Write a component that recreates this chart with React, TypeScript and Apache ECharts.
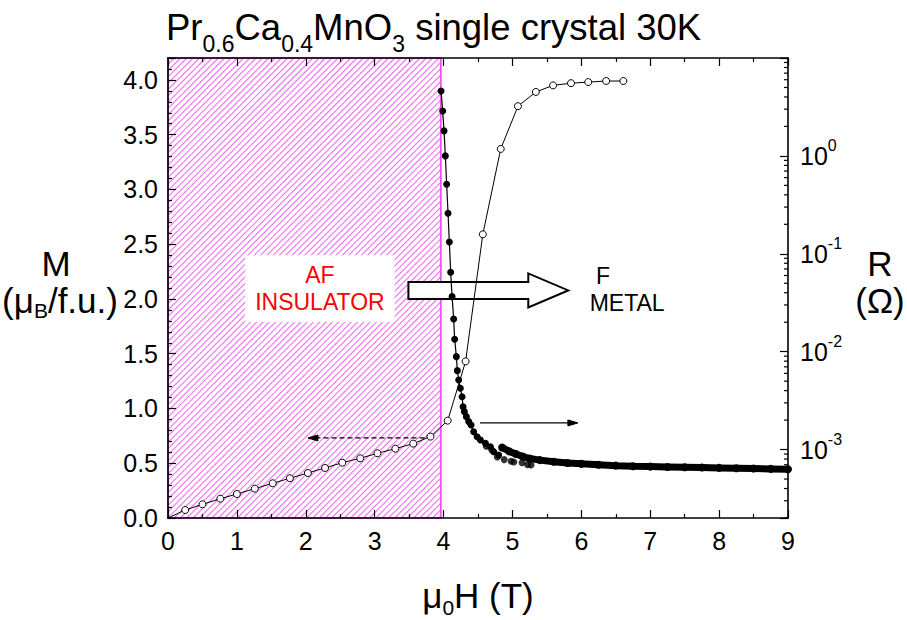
import { useEffect, useRef } from 'react';
import * as echarts from 'echarts';

const FONT = "Arial, 'Liberation Sans', Helvetica, sans-serif";

// Magnetization M (μB/f.u.) versus field μ0H (T)
const fieldM = [0, 0.25, 0.5, 0.76, 1.0, 1.26, 1.52, 1.77, 2.03, 2.28, 2.53, 2.79, 3.04, 3.3, 3.56, 3.81, 4.06, 4.32, 4.57, 4.83, 5.08, 5.34, 5.59, 5.85, 6.1, 6.36, 6.61];
const magnetization = [0, 0.073, 0.125, 0.176, 0.219, 0.268, 0.317, 0.363, 0.411, 0.457, 0.505, 0.545, 0.591, 0.633, 0.679, 0.743, 0.889, 1.43, 2.59, 3.37, 3.76, 3.89, 3.95, 3.97, 3.98, 3.99, 3.99];

// Resistance R (Ω) across the field-induced transition
const fieldR = [3.964, 3.987, 4.007, 4.026, 4.045, 4.065, 4.084, 4.103, 4.124, 4.147, 4.161, 4.186, 4.2, 4.22, 4.244, 4.269, 4.283, 4.302, 4.331, 4.365, 4.4, 4.437, 4.487, 4.535, 4.608, 4.68, 4.728, 4.8];
const resistance = [4.6, 2.88, 1.8, 1.0, 0.513, 0.259, 0.132, 0.0648, 0.0365, 0.0216, 0.0134, 0.0089, 0.0064, 0.00514, 0.00423, 0.00347, 0.00274, 0.00244, 0.00217, 0.00193, 0.00178, 0.00152, 0.00135, 0.00125, 0.00116, 0.00107, 0.00095, 0.00088];

// Densely sampled metallic branch
const fieldRMetal = [4.85, 4.95, 5.05, 5.15, 5.25, 5.4, 5.6, 5.8, 6.0, 6.25, 6.5, 6.75, 7.0, 7.25, 7.5, 7.75, 8.0, 8.25, 8.5, 8.75, 9.0];
const resistanceMetal = [1.05e-3, 9.6e-4, 9.0e-4, 8.5e-4, 8.1e-4, 7.8e-4, 7.5e-4, 7.3e-4, 7.15e-4, 7.0e-4, 6.85e-4, 6.75e-4, 6.7e-4, 6.65e-4, 6.6e-4, 6.55e-4, 6.5e-4, 6.45e-4, 6.4e-4, 6.35e-4, 6.3e-4];

// Scattered readings just above the transition
const fieldRScatter = [4.62, 4.7, 4.78, 4.88, 4.98, 5.02, 5.14, 5.22, 5.27];
const resistanceScatter = [1.08e-3, 9.9e-4, 8.4e-4, 7.9e-4, 7.6e-4, 7.46e-4, 7.35e-4, 7.0e-4, 6.97e-4];

// Axis ticks
const fieldTicks = [0, 1, 2, 3, 4, 5, 6, 7, 8, 9];
const logDecades = [-4, -3, -2, -1, 0];
const logMultipliers = [2, 3, 4, 5, 6, 7, 8, 9];

// Annotation placement in data units (field T, M)
const AF_REGION = [0, 3.96];
const LABEL_BOX = { x: [1.12, 3.29], m: [1.79, 2.4] };
const BIG_ARROW = { from: 3.49, head: 5.23, to: 5.81, m: 2.078 };
const M_ARROW = { from: 3.84, to: 2.03, m: 0.731 };
const R_ARROW = { from: 4.53, to: 5.95, m: 0.868 };
const METAL_LABEL = { x: 6.52, m: 2.078 };

const HATCH_STEP = 6.3;
const HATCH_COLOR = '#f27af2';

const zip = (xs: number[], ys: number[]) => xs.map((x, i) => [x, ys[i]]);

const axisLine = { show: true, onZero: false, lineStyle: { color: '#000', width: 1.6 } };
const tickStyle = { color: '#000', width: 1.2 };
const labelStyle = { color: '#000', fontSize: 25, fontFamily: FONT };

function arrowHead(tipX: number, tipY: number, dir: number, len: number, half: number, z: number) {
  return {
    type: 'polygon', z, silent: true,
    shape: { points: [[tipX, tipY], [tipX - dir * len, tipY - half], [tipX - dir * len, tipY + half]] },
    style: { fill: '#000', stroke: '#000', lineWidth: 1 },
  };
}

export default function App() {
  const ref = useRef<HTMLDivElement>(null);

  useEffect(() => {
    if (!ref.current) return;
    const chart = echarts.init(ref.current, null, { renderer: 'svg' });

    chart.setOption({
      animation: false,
      backgroundColor: '#fff',
      grid: { left: 168, right: 119, top: 58, bottom: 102, containLabel: false },
      xAxis: [
        {
          type: 'value', position: 'bottom', min: fieldTicks[0], max: fieldTicks[fieldTicks.length - 1], interval: 1, z: 3,
          axisLine,
          axisTick: { show: true, inside: true, length: 8, lineStyle: tickStyle },
          minorTick: { show: true, splitNumber: 2, length: 4, lineStyle: tickStyle },
          axisLabel: { ...labelStyle, margin: 10 },
          splitLine: { show: false },
        },
        {
          type: 'value', position: 'top', min: fieldTicks[0], max: fieldTicks[fieldTicks.length - 1], interval: 1, z: 3,
          axisLine,
          axisTick: { show: true, inside: true, length: 8, lineStyle: tickStyle },
          minorTick: { show: true, splitNumber: 2, length: 4, lineStyle: tickStyle },
          axisLabel: { show: false },
          splitLine: { show: false },
        },
      ],
      yAxis: [
        {
          type: 'value', position: 'left', min: 0, max: 4.2, interval: 0.5, z: 3,
          axisLine,
          axisTick: { show: true, inside: true, length: 8, lineStyle: tickStyle },
          minorTick: { show: true, splitNumber: 5, length: 4, lineStyle: tickStyle },
          axisLabel: {
            ...labelStyle, margin: 10, showMaxLabel: false,
            formatter: (v: number) => (v > 4.05 ? '' : v.toFixed(1)),
          },
          splitLine: { show: false },
        },
        {
          type: 'log', logBase: 10, position: 'right', min: 2e-4, max: 10, z: 3,
          axisLine,
          axisTick: { show: true, inside: true, length: 8, lineStyle: tickStyle },
          axisLabel: {
            margin: 12,
            color: '#000',
            formatter: (v: number) => {
              const e = Math.round(Math.log10(v));
              if (Math.abs(Math.log10(v) - e) > 0.01 || e > 0 || e < -3) return '';
              return `{b|10}{s|${e}}`;
            },
            rich: {
              b: { fontSize: 25, fontFamily: FONT, color: '#000', lineHeight: 36 },
              s: { fontSize: 16, fontFamily: FONT, color: '#000', verticalAlign: 'top' },
            },
          },
          splitLine: { show: false },
        },
      ],
      series: [
        {
          type: 'line', name: 'M', xAxisIndex: 0, yAxisIndex: 0, z: 4,
          data: zip(fieldM, magnetization).map((p, i) => (i === 0 ? { value: p, symbol: 'none' } : p)),
          symbol: 'circle', symbolSize: 7,
          itemStyle: { color: '#fff', borderColor: '#000', borderWidth: 1 },
          lineStyle: { color: '#000', width: 1 },
        },
        {
          type: 'line', name: 'R', xAxisIndex: 0, yAxisIndex: 1, z: 5,
          data: zip(fieldR, resistance),
          symbol: 'circle', symbolSize: 7,
          itemStyle: { color: '#000' },
          lineStyle: { color: '#000', width: 1.2 },
        },
        {
          type: 'line', name: 'R metallic', xAxisIndex: 0, yAxisIndex: 1, z: 5,
          data: zip(fieldRMetal, resistanceMetal),
          symbol: 'circle', symbolSize: 8,
          itemStyle: { color: '#000' },
          lineStyle: { color: '#000', width: 7 },
        },
        {
          type: 'scatter', name: 'R scatter', xAxisIndex: 0, yAxisIndex: 1, z: 5,
          data: zip(fieldRScatter, resistanceScatter),
          symbol: 'circle', symbolSize: 7,
          itemStyle: { color: '#000' },
        },
      ],
    });

    // Annotations positioned through the chart's own axis scales
    const px = (x: number, m: number) => chart.convertToPixel({ xAxisIndex: 0, yAxisIndex: 0 }, [x, m]) as number[];
    const pyR = (r: number) => chart.convertToPixel({ yAxisIndex: 1 }, r) as number;
    const [, gy1] = px(fieldTicks[0], 0);
    const [gx1, gy0] = px(fieldTicks[fieldTicks.length - 1], 4.2);

    const els: any[] = [];

    // title and axis names
    els.push({
      type: 'text', x: 166, y: 0, z: 10,
      style: {
        text: '{b|Pr}{s|0.6}{b|Ca}{s|0.4}{b|MnO}{s|3}{b| single crystal 30K}',
        fill: '#000', align: 'left', verticalAlign: 'top',
        rich: {
          b: { fontSize: 36.5, fontFamily: FONT, lineHeight: 55 },
          s: { fontSize: 23, fontFamily: FONT, verticalAlign: 'bottom' },
        },
      },
    });
    els.push({
      type: 'text', x: 56, y: 263, z: 10,
      style: { text: 'M', fontSize: 35, fontFamily: FONT, fill: '#000', align: 'center', verticalAlign: 'middle' },
    });
    els.push({
      type: 'text', x: 60, y: 300, z: 10,
      style: {
        text: '{a|(μ}{b|B}{a|/f.u.)}', fill: '#000', align: 'center', verticalAlign: 'middle',
        rich: {
          a: { fontSize: 35, fontFamily: FONT, lineHeight: 42 },
          b: { fontSize: 21, fontFamily: FONT, verticalAlign: 'bottom' },
        },
      },
    });
    els.push({
      type: 'text', x: 880, y: 263, z: 10,
      style: { text: 'R', fontSize: 35, fontFamily: FONT, fill: '#000', align: 'center', verticalAlign: 'middle' },
    });
    els.push({
      type: 'text', x: 880, y: 300, z: 10,
      style: { text: '(Ω)', fontSize: 35, fontFamily: FONT, fill: '#000', align: 'center', verticalAlign: 'middle' },
    });
    els.push({
      type: 'text', x: 478, y: 595, z: 10,
      style: {
        text: '{a|μ}{b|0}{a|H (T)}', fill: '#000', align: 'center', verticalAlign: 'middle',
        rich: {
          a: { fontSize: 35, fontFamily: FONT, lineHeight: 46 },
          b: { fontSize: 21, fontFamily: FONT, verticalAlign: 'bottom' },
        },
      },
    });

    // hatched AF insulating region
    const xl = px(AF_REGION[0], 0)[0];
    const xr = px(AF_REGION[1], 0)[0];
    const yt = gy0;
    const yb = gy1;
    const w = xr - xl;
    const h = yb - yt;
    for (let c = HATCH_STEP; c < w + h; c += HATCH_STEP) {
      const xa = Math.max(0, c - h);
      const xb = Math.min(w, c);
      els.push({
        type: 'line', z: 1, silent: true,
        shape: { x1: xl + xa, y1: yt + c - xa, x2: xl + xb, y2: yt + c - xb },
        style: { stroke: HATCH_COLOR, lineWidth: 1.2 },
      });
    }
    els.push({
      type: 'rect', z: 1.1, silent: true,
      shape: { x: xl, y: yt, width: w, height: h },
      style: { fill: 'none', stroke: '#f050f0', lineWidth: 1.8 },
    });

    // AF label on a white box
    const b0 = px(LABEL_BOX.x[0], LABEL_BOX.m[1]);
    const b1 = px(LABEL_BOX.x[1], LABEL_BOX.m[0]);
    els.push({
      type: 'rect', z: 1.2, silent: true,
      shape: { x: b0[0], y: b0[1], width: b1[0] - b0[0], height: b1[1] - b0[1] },
      style: { fill: '#fff', stroke: 'none' },
    });
    els.push({
      type: 'text', z: 1.3, silent: true,
      x: (b0[0] + b1[0]) / 2, y: (b0[1] + b1[1]) / 2,
      style: {
        text: 'AF\nINSULATOR', fill: '#ff0000', fontSize: 23, fontFamily: FONT,
        lineHeight: 27, align: 'center', verticalAlign: 'middle',
      },
    });

    // block arrow AF -> F
    const t = px(BIG_ARROW.from, BIG_ARROW.m);
    const hb = px(BIG_ARROW.head, BIG_ARROW.m);
    const tip = px(BIG_ARROW.to, BIG_ARROW.m);
    const cy = t[1];
    els.push({
      type: 'polygon', z: 1.4, silent: true,
      shape: {
        points: [
          [t[0], cy - 8.5], [hb[0], cy - 8.5], [hb[0], cy - 17], [tip[0], cy],
          [hb[0], cy + 17], [hb[0], cy + 8.5], [t[0], cy + 8.5],
        ],
      },
      style: { fill: '#fff', stroke: '#000', lineWidth: 2 },
    });
    const fc = px(METAL_LABEL.x, METAL_LABEL.m);
    els.push({
      type: 'text', z: 1.4, silent: true, x: fc[0] - 14, y: fc[1] - 14,
      style: { text: 'F', fill: '#000', fontSize: 23, fontFamily: FONT, align: 'center', verticalAlign: 'middle' },
    });
    els.push({
      type: 'text', z: 1.4, silent: true, x: fc[0] + 10, y: fc[1] + 13,
      style: { text: 'METAL', fill: '#000', fontSize: 23, fontFamily: FONT, align: 'center', verticalAlign: 'middle' },
    });

    // dashed arrow pointing to the M axis
    const ma = px(M_ARROW.from, M_ARROW.m);
    const mb = px(M_ARROW.to, M_ARROW.m);
    els.push({
      type: 'line', z: 1.4, silent: true,
      shape: { x1: ma[0], y1: ma[1], x2: mb[0] + 8, y2: mb[1] },
      style: { stroke: '#000', lineWidth: 1.2, lineDash: [5, 3] },
    });
    els.push(arrowHead(mb[0], mb[1], -1, 10, 3, 1.4));

    // solid arrow pointing to the R axis
    const ra = px(R_ARROW.from, R_ARROW.m);
    const rb = px(R_ARROW.to, R_ARROW.m);
    els.push({
      type: 'line', z: 1.4, silent: true,
      shape: { x1: ra[0], y1: ra[1], x2: rb[0] - 8, y2: rb[1] },
      style: { stroke: '#000', lineWidth: 1.2 },
    });
    els.push(arrowHead(rb[0], rb[1], 1, 10, 3, 1.4));

    // minor ticks of the logarithmic R axis
    logDecades.forEach((d) => logMultipliers.forEach((k) => {
      const y = pyR(k * Math.pow(10, d));
      if (!(y >= gy0 - 0.5 && y <= gy1 + 0.5)) return;
      els.push({
        type: 'line', z: 6, silent: true,
        shape: { x1: gx1 - 4, y1: y, x2: gx1, y2: y },
        style: { stroke: '#000', lineWidth: 1.2 },
      });
    }));

    chart.setOption({ graphic: { elements: els } });

    return () => chart.dispose();
  }, []);

  return <div ref={ref} style={{ position: 'absolute', left: 0, top: 0, width: 907, height: 620 }} />;
}
